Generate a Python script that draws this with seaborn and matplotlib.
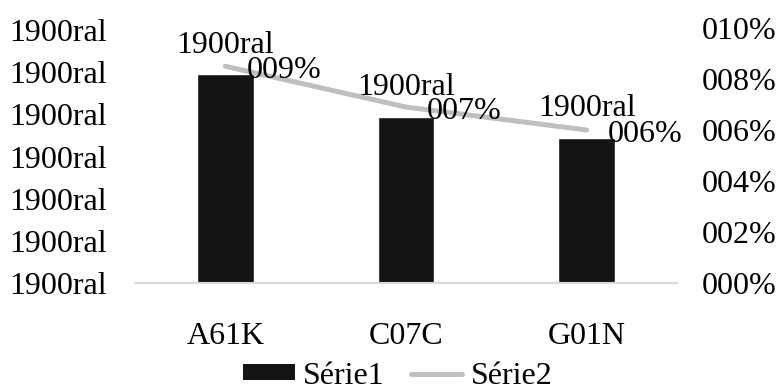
import numpy as np
import pandas as pd
import matplotlib
matplotlib.use("Agg")
import matplotlib.pyplot as plt
import seaborn as sns
from matplotlib.patches import Patch
from matplotlib.lines import Line2D
from matplotlib.ticker import FixedLocator, FuncFormatter

categories = ["A61K", "C07C", "G01N"]
serie1 = [4.95, 3.95, 3.45]
serie2 = [0.085, 0.069, 0.060]
bar_labels = ["1900ral", "1900ral", "1900ral"]
line_labels = ["009%", "007%", "006%"]
left_ticks = [0, 1, 2, 3, 4, 5, 6]
right_ticks = [0.0, 0.02, 0.04, 0.06, 0.08, 0.10]

sns.set_theme(style="white")
plt.rcParams["font.family"] = ["Liberation Serif", "DejaVu Serif"]
plt.rcParams["text.color"] = "black"
FS = 23

df = pd.DataFrame({"cat": categories, "s1": serie1, "s2": serie2,
                   "pos": np.arange(len(categories))})

fig = plt.figure(figsize=(7.8, 3.9), dpi=100)
ax = fig.add_axes([135/780, 107/390, (677-135)/780, (283-28)/390])
sns.barplot(data=df, x="cat", y="s1", color="#141414", width=0.315,
            saturation=1, ax=ax, order=categories)
ax.set_ylim(0, 6.05)
ax.yaxis.set_major_locator(FixedLocator(left_ticks))
ax.yaxis.set_major_formatter(FuncFormatter(lambda v, p: "1900ral"))
ax.set_xlabel("")
ax.set_ylabel("")
for s in ["top", "left", "right"]:
    ax.spines[s].set_visible(False)
ax.spines["bottom"].set_color("#d9d9d9")
ax.spines["bottom"].set_linewidth(1.5)
ax.tick_params(axis="both", length=0, labelsize=FS, colors="black")
ax.tick_params(axis="x", pad=28)
ax.tick_params(axis="y", pad=20)

ax2 = ax.twinx()
sns.lineplot(data=df, x="pos", y="s2", color="#bfbfbf", linewidth=3.6,
             ax=ax2, solid_capstyle="round")
ax2.set_ylim(0, 0.10)
ax2.yaxis.set_major_locator(FixedLocator(right_ticks))
ax2.yaxis.set_major_formatter(FuncFormatter(lambda v, p: "%03d%%" % round(v * 100)))
ax2.set_ylabel("")
ax2.set_xlabel("")
for s in ["top", "left", "right", "bottom"]:
    ax2.spines[s].set_visible(False)
ax2.tick_params(axis="y", length=0, labelsize=FS, pad=18, colors="black")
ax.set_xlim(-0.5, len(categories) - 0.5)

for i, (v, lab) in enumerate(zip(serie1, bar_labels)):
    ax.annotate(lab, (i, v), xytext=(0, 29), textcoords="offset pixels",
                ha="center", va="center", fontsize=FS, color="black")
for i, (v, lab) in enumerate(zip(serie2, line_labels)):
    ax2.annotate(lab, (i, v), xytext=(21, -4), textcoords="offset pixels",
                 ha="left", va="center", fontsize=FS, color="black")

handles = [Patch(facecolor="#141414", edgecolor="none"),
           Line2D([0], [0], color="#bfbfbf", linewidth=3.6, solid_capstyle="round")]
fig.legend(handles, ["Série1", "Série2"], loc="center",
           bbox_to_anchor=(0.51, 1 - 376/390), ncol=2, frameon=False,
           fontsize=FS, handlelength=1.6, handleheight=0.36, labelcolor="black",
           handletextpad=0.25, columnspacing=0.85, borderaxespad=0, borderpad=0)

fig.savefig("out.png", dpi=100)
